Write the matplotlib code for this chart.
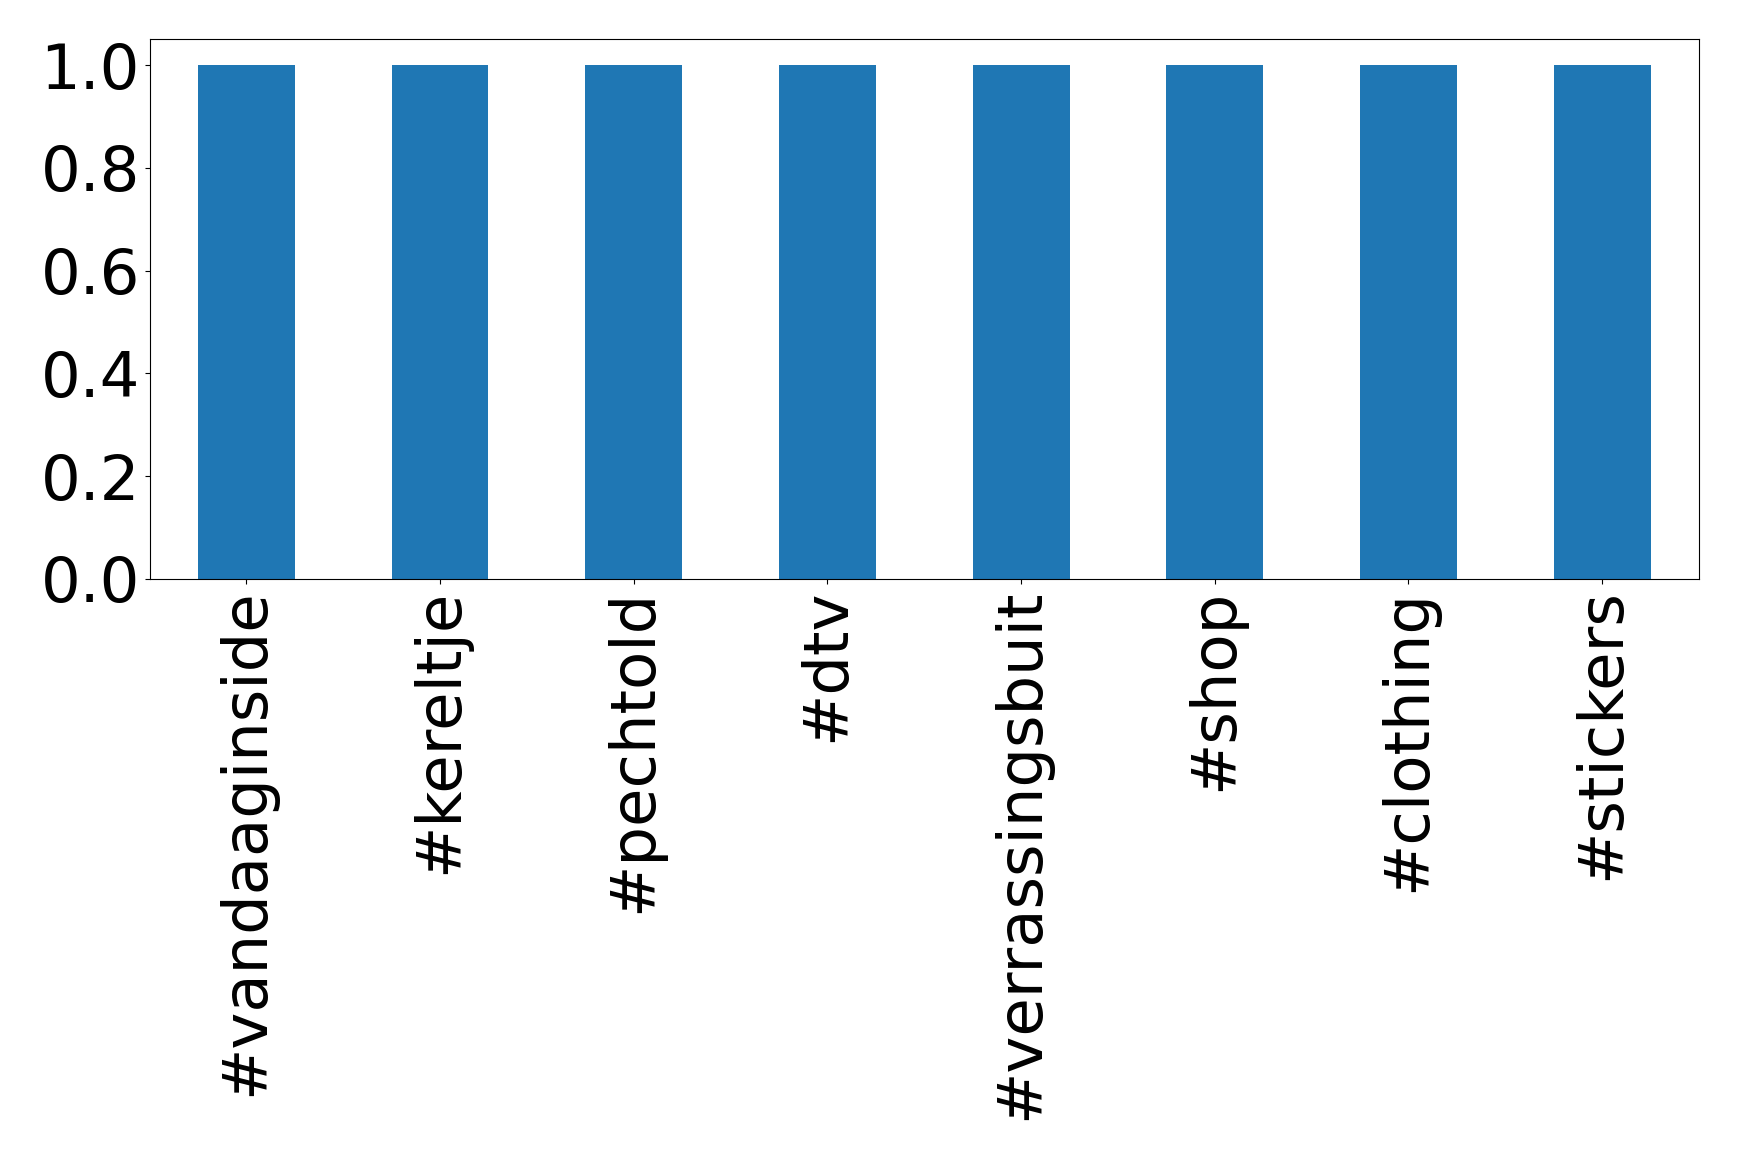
import matplotlib

matplotlib.use("Agg")
import matplotlib.pyplot as plt

hashtags = ["#vandaaginside", "#kereltje", "#pechtold", "#dtv",
            "#verrassingsbuit", "#shop", "#clothing", "#stickers"]
values = [1.0, 1.0, 1.0, 1.0, 1.0, 1.0, 1.0, 1.0]

fig, ax = plt.subplots(figsize=(17.39, 11.6), dpi=100)
positions = range(len(hashtags))
ax.bar(positions, values, width=0.5, color="#1f77b4")
ax.set_xlim(-0.5, len(hashtags) - 0.5)
ax.set_xticks(list(positions))
ax.set_xticklabels(hashtags, rotation=90)
ax.tick_params(axis="both", labelsize=45)
ax.set_yticks([0.0, 0.2, 0.4, 0.6, 0.8, 1.0])
fig.subplots_adjust(left=0.086, right=0.977, top=0.966, bottom=0.501)
fig.savefig("out.png", dpi=100)
